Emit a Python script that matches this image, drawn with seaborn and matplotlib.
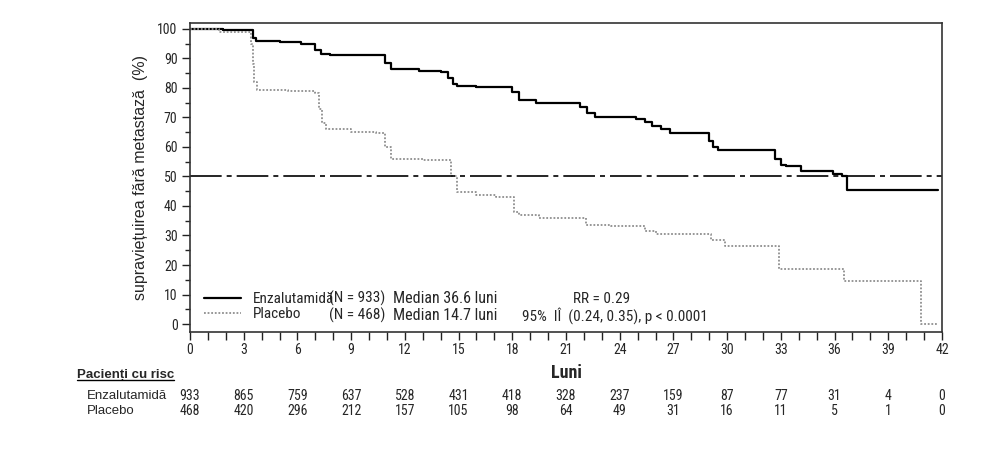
#Import libraries
import numpy as np
import pandas as pd
import matplotlib
matplotlib.use('Agg')
import matplotlib.pyplot as plt
from matplotlib.lines import Line2D
from matplotlib.transforms import IdentityTransform
from matplotlib.ticker import MultipleLocator
import seaborn as sns

# Kaplan-Meier steps (month, survival %)
enza_months = [0, 1.85, 3.5, 3.7, 5.0, 6.2, 7.0, 7.3, 7.8, 10.9, 11.2, 12.8, 14.0, 14.4, 14.7, 14.9,
               16.0, 18.0, 18.4, 19.3, 21.8, 22.2, 22.6, 24.9, 25.4, 25.8, 26.3, 26.8, 29.0, 29.2,
               29.5, 32.7, 33.0, 33.3, 34.1, 35.9, 36.4, 36.7, 41.8]
enza_surv = [100, 99.5, 97, 95.8, 95.4, 95, 93, 91.5, 91, 88.5, 86.3, 85.8, 85.3, 83.5, 81.5, 80.5,
             80.2, 78.5, 75.8, 75, 73.5, 71.5, 70.2, 69.5, 68.5, 67, 66, 64.8, 62, 60,
             59, 56, 54, 53.5, 52, 51, 50.3, 45.5, 45.5]

placebo_months = [0, 1.6, 3.4, 3.5, 3.6, 3.75, 5.5, 7.0, 7.2, 7.4, 7.6, 9.0, 10.4, 10.9, 11.2, 13.0,
                  14.4, 14.6, 14.9, 16.0, 17.1, 18.1, 18.4, 19.5, 22.1, 23.5, 25.4, 26.0, 29.1, 29.9,
                  32.9, 36.5, 40.8, 41.8]
placebo_surv = [100, 99, 95, 88, 82, 79.2, 78.8, 78.3, 73, 68, 66, 65.2, 64.8, 60, 56, 55.7,
                55.5, 50, 44.7, 43.8, 43, 38, 37, 36, 33.5, 33.2, 31.5, 30.5, 28.5, 26.5,
                18.8, 14.6, 0, 0]

# patients at risk table
risk_months = [0, 3, 6, 9, 12, 15, 18, 21, 24, 27, 30, 33, 36, 39, 42]
risk_enza = [933, 865, 759, 637, 528, 431, 418, 328, 237, 159, 87, 77, 31, 4, 0]
risk_placebo = [468, 420, 296, 212, 157, 105, 98, 64, 49, 31, 16, 11, 5, 1, 0]

arm_labels = ['Enzalutamidă', 'Placebo']
arm_n = ['(N = 933)', '(N = 468)']
arm_median = ['Median 36.6 luni', 'Median 14.7 luni']

enza_df = pd.DataFrame({'luni': enza_months, 'surv': enza_surv})
placebo_df = pd.DataFrame({'luni': placebo_months, 'surv': placebo_surv})

sns.set_style('ticks')
narrow = ['Roboto Condensed', 'DejaVu Sans']
regular = ['Liberation Sans', 'DejaVu Sans']
plt.rcParams['font.family'] = narrow

fig = plt.figure(figsize=(9.89, 4.53), dpi=100)
ax = fig.add_axes([190 / 989, 1 - 331.7 / 453, 752 / 989, 308.7 / 453])

sns.lineplot(data=enza_df, x='luni', y='surv', ax=ax, color='black', linewidth=1.6,
             drawstyle='steps-post', estimator=None, label=arm_labels[0])
sns.lineplot(data=placebo_df, x='luni', y='surv', ax=ax, color='#8f8f8f', linewidth=1.3,
             linestyle=(0, (1, 1)), drawstyle='steps-post', estimator=None, label=arm_labels[1])

# median reference line
ax.axhline(50, color='black', linewidth=1.2, dashes=(19, 3, 3, 3))

ax.set_xlim(0, 42)
ax.set_ylim(-2.6, 102)
ax.xaxis.set_major_locator(MultipleLocator(3))
ax.xaxis.set_minor_locator(MultipleLocator(1))
ax.yaxis.set_major_locator(MultipleLocator(10))
ax.yaxis.set_minor_locator(MultipleLocator(5))
ax.tick_params(axis='x', which='both', length=6, width=1, pad=2, labelsize=10, color='#222222')
ax.tick_params(axis='y', which='major', length=6, width=1, pad=3, labelsize=10, color='#222222')
ax.tick_params(axis='y', which='minor', length=3.6, width=1, color='#222222')
for s in ax.spines.values():
    s.set_visible(True)
    s.set_color('#333333')
    s.set_linewidth(1.2)

ax.set_xlabel('Luni', fontsize=13, fontweight='bold', labelpad=5)
ax.set_ylabel('supraviețuirea fără metastază  (%)', fontsize=11.5, family=regular, labelpad=7)

# legend with handles + arm names
handles = ax.get_lines()[:2]
ax.legend(handles, arm_labels, loc='center left', bbox_to_anchor=(0.0186, 0.081),
          frameon=False, fontsize=11, handlelength=2.4, handletextpad=0.8,
          labelspacing=0.1, borderpad=0, borderaxespad=0)
ax.get_legend().get_lines()[1].set_linestyle((0, (1, 1)))

row_y = [8.6, 3.0]
for i in range(2):
    ax.text(7.77, row_y[i], arm_n[i], fontsize=11, va='center', ha='left')
    ax.text(11.34, row_y[i], arm_median[i], fontsize=11.5, va='center', ha='left')
ax.text(23.0, row_y[0], 'RR = 0.29', fontsize=11, va='center', ha='center')
ax.text(18.55, row_y[1], '95%  IÎ  (0.24, 0.35), p < 0.0001', fontsize=11, va='center', ha='left')

# patients at risk table under the axis
tr = ax.get_xaxis_transform()
head = ax.text(-6.31, -0.140, 'Pacienți cu risc', transform=tr, fontsize=9.5, fontweight='bold',
               family=regular, va='center', ha='left', clip_on=False)
ax.text(-5.75, -0.208, arm_labels[0], transform=tr, fontsize=9.5, family=regular,
        va='center', ha='left', clip_on=False)
ax.text(-5.75, -0.257, arm_labels[1], transform=tr, fontsize=9.5, family=regular,
        va='center', ha='left', clip_on=False)
for m, a, b in zip(risk_months, risk_enza, risk_placebo):
    ax.text(m, -0.208, str(a), transform=tr, fontsize=10, va='center', ha='center', clip_on=False)
    ax.text(m, -0.257, str(b), transform=tr, fontsize=10, va='center', ha='center', clip_on=False)

# underline the table heading
fig.canvas.draw()
bb = head.get_window_extent()
fig.add_artist(Line2D([bb.x0, bb.x1], [bb.y0 + 1, bb.y0 + 1], color='black', linewidth=1,
                      transform=IdentityTransform()))

fig.savefig('out.png', dpi=100)
